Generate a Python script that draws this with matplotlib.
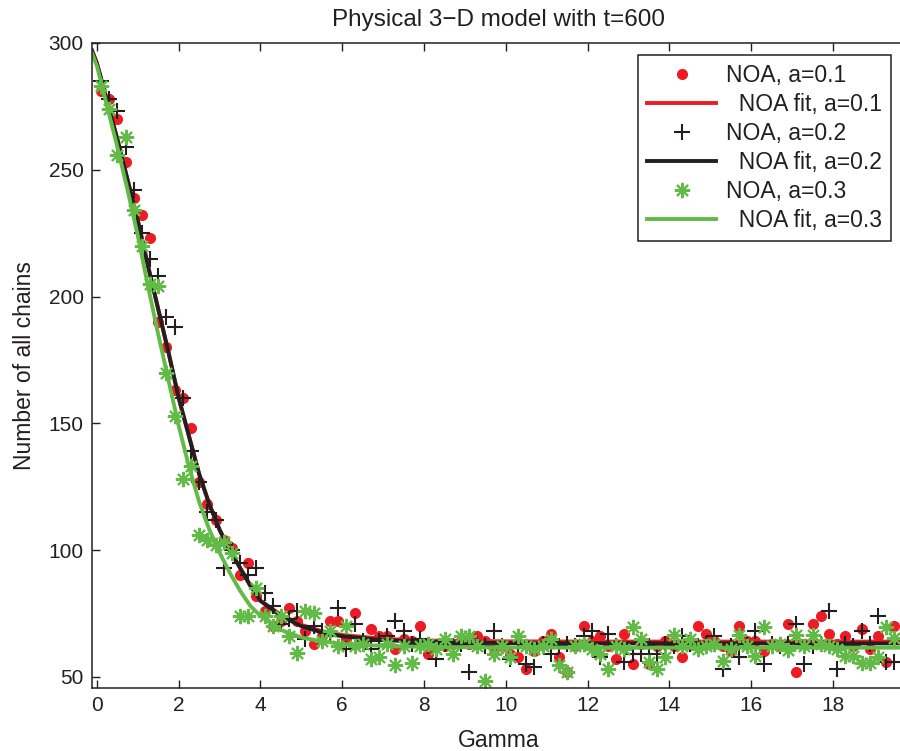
"""
Physical 3-D model with t=600: number of chains vs gamma
"""
import matplotlib
matplotlib.use("Agg")
import matplotlib.pyplot as plt
import numpy as np

plt.rcParams["font.family"] = ["Liberation Sans", "DejaVu Sans"]

# Data
gamma = np.round(np.arange(98) * 0.2 + 0.1, 1)

noa_01 = [281, 278, 270, 253, 239, 232, 223, 190, 180, 163,
          160, 148, 127, 118, 112, 104, 101, 90, 95, 82,
          76, 70, 72, 77, 72, 68, 63, 66, 72, 72,
          65, 75, 64, 69, 66, 66, 61, 65, 64, 70,
          59, 63, 62, 63, 64, 63, 66, 64, 61, 62,
          59, 58, 53, 60, 64, 67, 58, 52, 62, 70,
          64, 66, 62, 57, 67, 55, 63, 55, 62, 64,
          62, 58, 63, 70, 67, 64, 62, 60, 70, 64,
          64, 60, 63, 62, 71, 52, 63, 71, 74, 67,
          63, 66, 62, 69, 61, 66, 56, 70]

noa_02 = [285, 278, 273, 259, 242, 225, 215, 208, 192, 188,
          160, 139, 127, 115, 112, 93, 100, 95, 90, 93,
          83, 78, 71, 73, 76, 65, 70, 68, 66, 77,
          61, 71, 64, 61, 64, 66, 72, 68, 63, 65,
          62, 57, 63, 62, 63, 52, 63, 62, 68, 62,
          57, 63, 55, 54, 63, 59, 62, 63, 62, 66,
          68, 58, 67, 62, 56, 59, 59, 62, 59, 63,
          62, 66, 63, 62, 63, 66, 53, 62, 58, 63,
          68, 55, 63, 62, 63, 71, 55, 62, 63, 76,
          53, 63, 62, 68, 63, 74, 56, 56]

noa_03 = [283, 274, 256, 263, 234, 220, 205, 204, 170, 153,
          128, 133, 106, 104, 102, 103, 99, 74, 74, 85,
          74, 70, 74, 66, 59.5, 76, 75, 64, 68, 62,
          70, 62, 63, 57, 58, 63, 54.5, 62, 55.5, 62,
          63, 61, 65, 59, 66, 66, 62, 48.5, 59, 62,
          58, 66, 62, 61, 62, 65, 54.5, 52, 62, 63,
          61, 59, 53, 62, 61, 69.5, 65, 56, 53, 58,
          66.5, 62, 65, 61, 62, 63, 56.4, 61, 66.5, 62,
          58.4, 69.5, 62, 63, 60.5, 66.5, 62, 66.5, 63, 62,
          61, 58.4, 58.4, 55.5, 55.5, 57.7, 69.5, 65.5]

# Fit curves
fit_gamma = [-0.12, 0, 0.25, 0.5, 0.75, 1.0, 1.25, 1.5, 1.75, 2.0,
             2.25, 2.5, 2.75, 3.0, 3.25, 3.5, 3.75, 4.0, 4.5, 5.0,
             5.5, 6.0, 7.0, 8.0, 10, 12, 20]
fit_01 = [297, 292, 277, 262, 246, 230, 212, 195, 178, 160,
          145, 130, 118, 108, 100, 93, 86, 80, 74.5, 70.5,
          68, 66.5, 65, 64.3, 64, 63.9, 63.9]
fit_02 = [297, 292, 277, 262, 246, 230, 212, 195, 178, 160,
          145, 130, 118, 108, 100, 93, 86, 80, 74, 70,
          67.5, 66, 64.5, 63.8, 63.3, 63.2, 63.2]
fit_03 = [296, 291, 275, 259, 242, 224, 204, 185, 167, 149,
          133, 119, 108, 99, 91, 84, 78, 74, 68.5, 65.5,
          64, 63, 62.2, 61.8, 61.6, 61.5, 61.5]

red = "#ed1c24"
black = "#231f20"
green = "#62bb46"

fig = plt.figure(figsize=(9, 7.51), dpi=100)
ax = fig.add_axes([92 / 900, 63 / 751, 813 / 900, 645 / 751])

ax.plot(gamma, noa_01, ".", color=red, markersize=14, label="NOA, a=0.1")
ax.plot(fit_gamma, fit_01, "-", color=red, linewidth=2.8, label="  NOA fit, a=0.1")
ax.plot(gamma, noa_02, "+", color=black, markersize=11, markeredgewidth=1.5,
        label="NOA, a=0.2")
ax.plot(fit_gamma, fit_02, "-", color=black, linewidth=2.8, label="  NOA fit, a=0.2")
ax.plot(gamma, noa_03, linestyle="none", marker=(8, 2, 0), color=green,
        markersize=11, markeredgewidth=1.5, label="NOA, a=0.3")
ax.plot(fit_gamma, fit_03, "-", color=green, linewidth=2.8, label="  NOA fit, a=0.3")

ax.set_xlim(-0.12, 19.76)
ax.set_ylim(45.6, 300)
ax.set_xticks(np.arange(0, 20, 2))
ax.set_yticks(np.arange(50, 301, 50))

ax.tick_params(direction="in", length=6, width=1, labelsize=15,
               colors=black, top=True, right=False, pad=6)
for s in ax.spines.values():
    s.set_linewidth(1.1)
    s.set_color(black)

ax.set_title("Physical 3\u2212D model with t=600", fontsize=17.5, color=black, pad=12)
ax.set_xlabel("Gamma", fontsize=16.5, color=black, labelpad=10)
ax.set_ylabel("Number of all chains", fontsize=16.5, color=black, labelpad=9)

leg = ax.legend(loc="upper left", bbox_to_anchor=(638 / 900, 1 - 55 / 751),
                bbox_transform=fig.transFigure, borderaxespad=0,
                fontsize=16.5, handlelength=3.0, handletextpad=0.45,
                labelspacing=0.26, borderpad=0.4, fancybox=False,
                framealpha=1, edgecolor=black)
leg.get_frame().set_linewidth(1.1)
for t in leg.get_texts():
    t.set_color(black)

fig.savefig("out.png", dpi=100)
